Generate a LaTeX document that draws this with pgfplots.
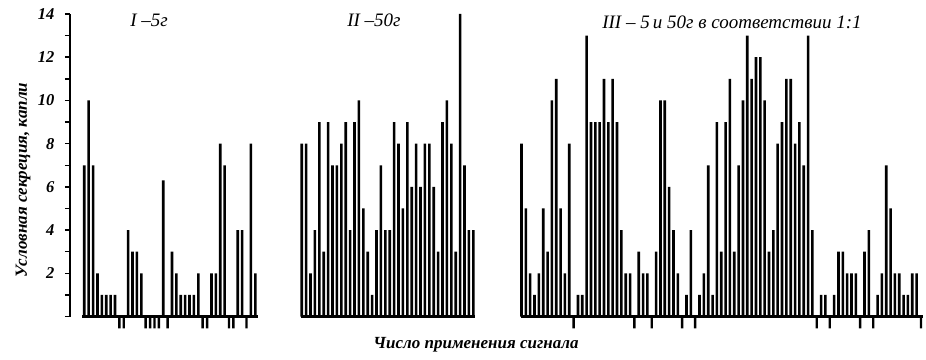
\documentclass[border=0pt]{standalone}
\usepackage{fontspec}
\setmainfont{Liberation Serif}
\usepackage{pgfplots}
\pgfplotsset{compat=1.18}
\usepackage{pgfplotstable}

% Group I (5 g): 40 signal applications
\pgfplotstableread{
v
7
10
7
2
1
1
1
1
0
0
4
3
3
2
0
0
0
0
6.3
0
3
2
1
1
1
1
2
0
0
2
2
8
7
0
0
4
4
0
8
2
}\grI

% Group II (50 g): 40 signal applications
\pgfplotstableread{
v
8
8
2
4
9
3
9
7
7
8
9
4
9
10
5
3
1
4
7
4
4
9
8
5
9
6
8
6
8
8
6
3
9
10
8
3
14
7
4
4
}\grII

% Group III (5 and 50 g, 1:1): 93 signal applications
\pgfplotstableread{
v
8
5
2
1
2
5
3
10
11
5
2
8
0
1
1
13
9
9
9
11
9
11
9
4
2
2
0
3
2
2
0
3
10
10
6
4
2
0
1
4
0
1
2
7
1
9
3
9
11
3
7
10
13
11
12
12
10
3
4
8
9
11
11
8
9
7
13
4
0
1
1
0
1
3
3
2
2
2
0
3
4
0
1
2
7
5
2
2
1
1
2
2
0
}\grIII

% marks below the baseline (slot numbers)
\pgfplotstableread{
s d
9 -0.55
10 -0.55
15 -0.55
16 -0.55
17 -0.55
18 -0.55
20 -0.55
28 -0.55
29 -0.55
34 -0.55
35 -0.55
38 -0.55
}\mkI

\pgfplotstableread{
s d
13 -0.55
27 -0.55
31 -0.55
38 -0.55
41 -0.55
69 -0.55
72 -0.55
79 -0.55
82 -0.55
93 -0.55
}\mkIII

\begin{document}
\begin{tikzpicture}
\begin{axis}[
  scale only axis, width=856pt, height=302.5pt,
  xmin=70, xmax=926, ymin=0, ymax=14,
  clip=false,
  axis x line=none,
  axis y line*=left,
  axis line style={line width=1.7pt, black},
  ytick={0,2,...,14},
  yticklabels={,2,4,6,8,10,12,14},
  minor y tick num=1,
  tick align=outside,
  major tick length=5pt, minor tick length=5pt,
  tick style={line width=1.5pt, black},
  yticklabel style={font=\fontsize{16.5}{16.5}\selectfont\bfseries\itshape, xshift=-7pt},
]
\addplot[ybar, bar width=2.6pt, bar shift=0pt, fill=black, draw=none]
  table[x expr=84.3+\coordindex*4.385, y=v] {\grI};
\addplot[ybar, bar width=2.6pt, bar shift=0pt, fill=black, draw=none]
  table[x expr=301.7+\coordindex*4.4, y=v] {\grII};
\addplot[ybar, bar width=2.6pt, bar shift=0pt, fill=black, draw=none]
  table[x expr=521.5+\coordindex*4.342, y=v] {\grIII};
\addplot[ybar, bar width=2.4pt, bar shift=0pt, fill=black, draw=none]
  table[x expr=84.3+(\thisrow{s}-1)*4.385, y=d] {\mkI};
\addplot[ybar, bar width=2.4pt, bar shift=0pt, fill=black, draw=none]
  table[x expr=521.5+(\thisrow{s}-1)*4.342, y=d] {\mkIII};
\addplot[line width=2.8pt, black] coordinates {(82.5,0) (258,0)};
\addplot[line width=2.8pt, black] coordinates {(300.5,0) (475,0)};
\addplot[line width=2.8pt, black] coordinates {(520.5,0) (923,0)};
\end{axis}
\node[font=\fontsize{19}{19}\selectfont\itshape] at (79pt,296.5pt) {I –5г};
\node[font=\fontsize{19}{19}\selectfont\itshape] at (304pt,296.5pt) {II –50г};
\node[font=\fontsize{19}{19}\selectfont\itshape] at (662pt,294.5pt) {III – 5\,и 50г в соответствии 1:1};
\node[font=\fontsize{17}{17}\selectfont\bfseries\itshape, rotate=90] at (-47pt,136.5pt) {Условная секреция, капли};
\node[font=\fontsize{17}{17}\selectfont\bfseries\itshape] at (406pt,-28.5pt) {Число применения сигнала};
\pgfresetboundingbox
\path[use as bounding box] (-70pt,-42.5pt) rectangle (856pt,316.5pt);
\end{tikzpicture}
\end{document}
